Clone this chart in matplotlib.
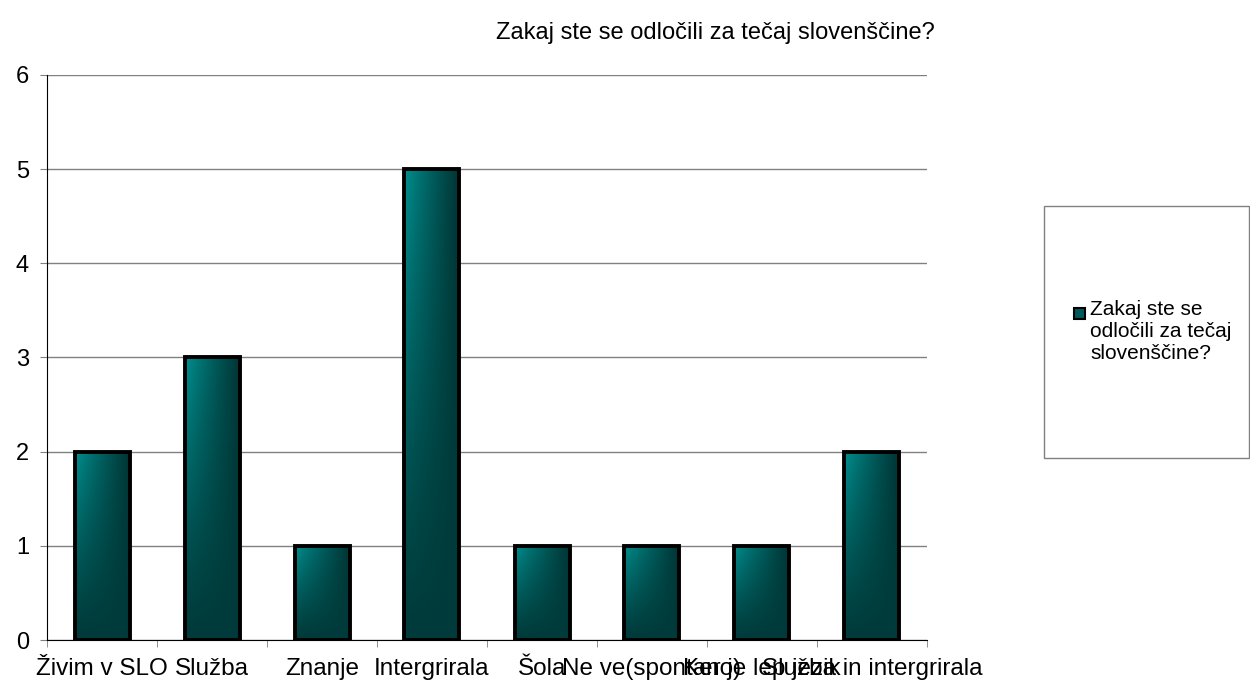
import numpy as np
import matplotlib
matplotlib.use("Agg")
import matplotlib.pyplot as plt
from matplotlib.patches import Rectangle

plt.rcParams['font.family'] = ['Liberation Sans', 'DejaVu Sans']

title = "Zakaj ste se odločili za tečaj slovenščine?"
categories = ["Živim v SLO", "Služba", "Znanje", "Intergrirala", "Šola",
              "Ne ve(spontano)", "Ker je lep jezik", "Služba in intergrirala"]
counts = [2, 3, 1, 5, 1, 1, 1, 2]

# teal gradient: lighter on the left, darker towards the right and bottom
light = np.array([0, 138, 138]) / 255
dark_r = np.array([0, 52, 52]) / 255
dark_b = np.array([0, 58, 58]) / 255
gx, gy = np.meshgrid(np.linspace(0, 1, 64), np.linspace(0, 1, 128))
hx = np.clip((gx - 0.05) / 0.95, 0, 1) ** 0.9
vy = gy ** 1.2  # 0 at bottom row of image (origin lower) -> dark
grad = np.empty(gx.shape + (3,))
for k in range(3):
    top = light[k] * (1 - hx) + dark_r[k] * hx
    grad[..., k] = dark_b[k] * (1 - vy) + top * vy

fig = plt.figure(figsize=(12.5, 6.81), dpi=100)
ax = fig.add_axes([0.0376, 0.0602, 0.704, 0.8297])

x = np.arange(len(categories))
bars = ax.bar(x, counts, width=0.5, facecolor='none', edgecolor='black',
              linewidth=2.8, zorder=3)
for b in bars:
    x0, y0 = b.get_x(), b.get_y()
    w, h = b.get_width(), b.get_height()
    im = ax.imshow(grad, extent=[x0, x0 + w, y0, y0 + h], origin='lower',
                   aspect='auto', zorder=2, interpolation='bilinear')
    im.set_clip_path(b)

ax.set_xlim(-0.5, len(categories) - 0.5)
ax.set_ylim(0, 6)
ax.set_yticks(range(7))
ax.yaxis.grid(True, color='#808080', linewidth=1)
ax.set_axisbelow(True)
ax.set_xticks(x)
ax.set_xticklabels(categories, fontsize=17.5)
ax.set_xticks(np.arange(-0.5, len(categories), 1), minor=True)
ax.tick_params(axis='x', which='major', length=0, pad=13)
ax.tick_params(axis='x', which='minor', length=5, color='#808080', direction='out')
ax.tick_params(axis='y', length=5, color='#808080', labelsize=17, pad=8)
for s in ['top', 'right']:
    ax.spines[s].set_visible(False)
ax.spines['left'].set_color('black')
ax.spines['bottom'].set_color('black')

fig.text(715 / 1250, 1 - 33 / 681, title, ha='center', va='center', fontsize=17)

# legend box
fig.patches.append(Rectangle((1044 / 1250, 1 - 458 / 681), 205 / 1250, 252 / 681,
                             transform=fig.transFigure, facecolor='white',
                             edgecolor='#808080', linewidth=1))
fig.patches.append(Rectangle((1074 / 1250, 1 - 319 / 681), 11 / 1250, 11 / 681,
                             transform=fig.transFigure, facecolor='#005a5a',
                             edgecolor='black', linewidth=1.5))
fig.text(1090 / 1250, 1 - 300 / 681, "Zakaj ste se\nodločili za tečaj\nslovenščine?",
         ha='left', va='top', fontsize=15, linespacing=1.2)

fig.savefig("out.png", dpi=100)
